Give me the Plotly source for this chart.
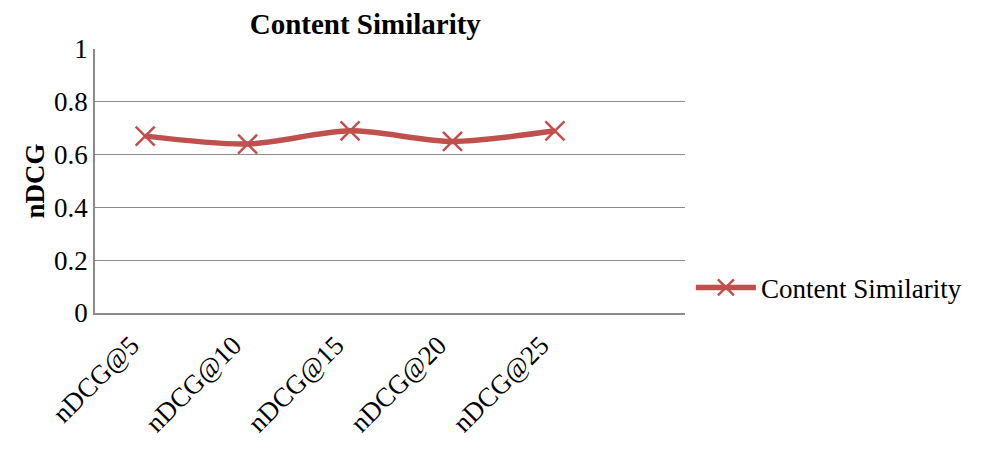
import plotly.graph_objects as go

categories = ["nDCG@5", "nDCG@10", "nDCG@15", "nDCG@20", "nDCG@25"]
ndcg_values = [0.67, 0.64, 0.69, 0.65, 0.69]

serif = "Liberation Serif, Times New Roman, serif"

fig = go.Figure()
fig.add_trace(go.Scatter(
    x=categories,
    y=ndcg_values,
    mode="lines+markers",
    name="Content Similarity",
    line=dict(color="#C0504D", width=5.5, shape="spline", smoothing=0.8),
    marker=dict(symbol="x-thin", size=19, line=dict(color="#C0504D", width=2.5)),
))

# page body adds an 8px offset, so margins are shifted to compensate
fig.update_layout(
    width=998,
    height=457,
    paper_bgcolor="white",
    plot_bgcolor="white",
    margin=dict(l=87, r=321, t=41, b=152),
    font=dict(family=serif, size=27, color="black"),
    title=dict(text="<b>Content Similarity</b>", x=0.358, xanchor="center",
               y=0.966, yanchor="middle", font=dict(size=29)),
    showlegend=True,
    legend=dict(x=1.01, xanchor="left", y=0.095, yanchor="middle",
                font=dict(size=27), bgcolor="rgba(0,0,0,0)", itemwidth=60),
)

fig.update_xaxes(
    type="category",
    range=[-0.49, 5.27],
    tickangle=-45,
    ticklabelshift=-14,
    ticklabelstandoff=4,
    showline=True,
    linecolor="#8c8c8c",
    linewidth=1.5,
    showgrid=False,
    ticks="",
    automargin=False,
)

fig.update_yaxes(
    range=[0, 1],
    dtick=0.2,
    tickformat="~g",
    showline=True,
    linecolor="#8c8c8c",
    linewidth=1.5,
    showgrid=True,
    gridcolor="#8c8c8c",
    gridwidth=1.2,
    zeroline=False,
    ticks="",
    automargin=False,
    title=dict(text="<b>nDCG</b>", font=dict(size=27), standoff=2),
)

fig.write_html("out.html")
